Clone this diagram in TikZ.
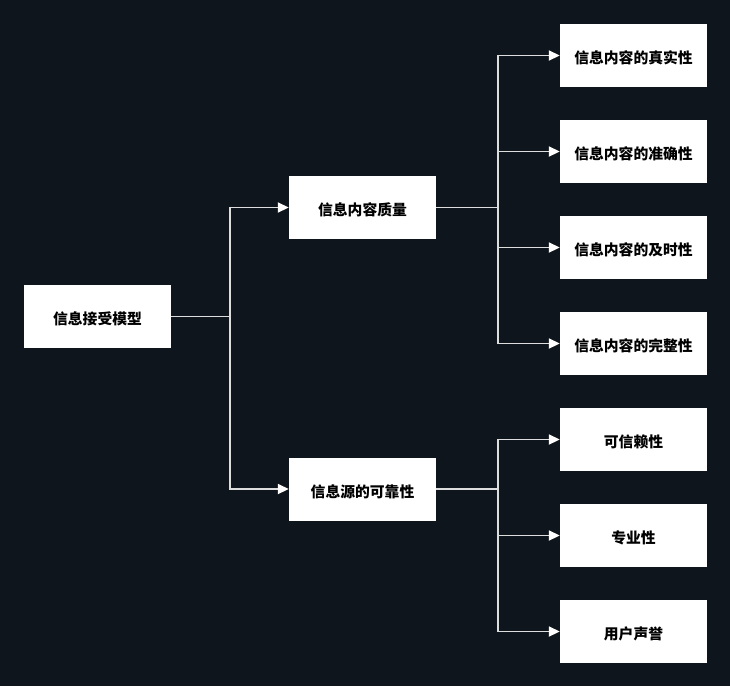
\documentclass[tikz,border=0pt]{standalone}
\usepackage{fontspec}
\setmainfont{Noto Sans CJK SC}
\usetikzlibrary{arrows.meta}
\definecolor{bg}{HTML}{0F151D}
\definecolor{ln}{HTML}{DDDDDD}
\tikzset{
  box/.style={fill=white, draw=none, minimum width=147pt, minimum height=63pt, inner sep=0pt, text height=17pt, text depth=1pt, font=\fontsize{14.8pt}{17pt}\selectfont\bfseries, text=black, anchor=center},
  conn/.style={draw=ln, line width=1.8pt, arrows={-Triangle[length=11pt,width=10pt,color=white]}}
}
\begin{document}
\begin{tikzpicture}[x=1pt,y=-1pt]
\fill[bg] (0,0) rectangle (730,686);
\useasboundingbox (0,0) rectangle (730,686);
\node[box] (root) at (97.5,316.5) {信息接受模型};
\node[box] (q) at (362.5,207.5) {信息内容质量};
\node[box] (s) at (362.5,489) {信息源的可靠性};
\node[box] (l1) at (633.5,55.5) {信息内容的真实性};
\node[box] (l2) at (633.5,151.5) {信息内容的准确性};
\node[box] (l3) at (633.5,247.5) {信息内容的及时性};
\node[box] (l4) at (633.5,343.5) {信息内容的完整性};
\node[box] (l5) at (633.5,439.5) {可信赖性};
\node[box] (l6) at (633.5,535.5) {专业性};
\node[box] (l7) at (633.5,631.5) {用户声誉};
\coordinate (t1) at (230,0);
\coordinate (t2) at (498,0);
\foreach \m in {q,s}{
  \draw[conn] (root.east) -- (root.east -| t1) |- (\m.west);
}
\foreach \m in {l1,l2,l3,l4}{
  \draw[conn] (q.east) -- (q.east -| t2) |- (\m.west);
}
\foreach \m in {l5,l6,l7}{
  \draw[conn] (s.east) -- (s.east -| t2) |- (\m.west);
}
\end{tikzpicture}
\end{document}
